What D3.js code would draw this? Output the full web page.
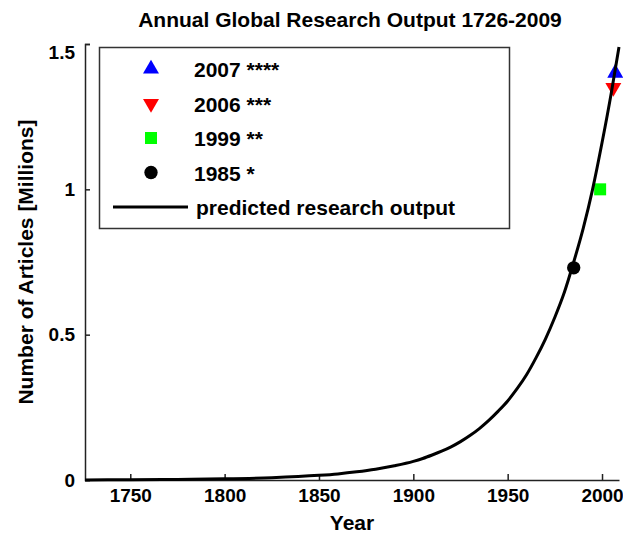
<!DOCTYPE html>
<html>
<head>
<meta charset="utf-8">
<script src="https://cdn.jsdelivr.net/npm/d3@7"></script>
<style>
  body { margin: 0; background: #fff; }
  text { font-family: "Liberation Sans", Arial, sans-serif; font-weight: bold; fill: #000; }
</style>
</head>
<body>
<svg></svg>
<script>
// values
const curveYears = [1726, 1750, 1775, 1800, 1825, 1850, 1860, 1870, 1880, 1890, 1900, 1905, 1910, 1915, 1920, 1925, 1930, 1935, 1940, 1945, 1950, 1955, 1960, 1965, 1970, 1975, 1980, 1985, 1990, 1995, 2000, 2005, 2009]
const curveValues = [0.000, 0.001, 0.002, 0.004, 0.008, 0.016, 0.021, 0.028, 0.037, 0.049, 0.064, 0.074, 0.086, 0.099, 0.114, 0.132, 0.153, 0.177, 0.205, 0.237, 0.272, 0.314, 0.362, 0.420, 0.485, 0.560, 0.645, 0.750, 0.865, 1.000, 1.160, 1.335, 1.490]

const pointYears = [2007, 2006, 1999, 1985]
const pointValues = [1.40, 1.35, 1.00, 0.73]
const pointStars = ["****", "***", "**", "*"]
const pointColors = ["#0000ff", "#ff0000", "#00ff00", "#000000"]
const pointShapes = ["up", "down", "square", "circle"]

const xTicks = [1750, 1800, 1850, 1900, 1950, 2000]
const yTicks = [0, 0.5, 1, 1.5]

const width = 623, height = 535

const svg = d3.select("svg")
  .attr("width", width)
  .attr("height", height)

const x = d3.scaleLinear()
  .domain([1726, 2009])
  .range([85, 619])

const y = d3.scaleLinear()
  .domain([0, 1.5])
  .range([480, 44])

// symbol helper
const symbolFor = (shape) => {
  if (shape === "square") return d3.symbol().type(d3.symbolSquare).size(144)()
  if (shape === "circle") return d3.symbol().type(d3.symbolCircle).size(140)()
  return d3.symbol().type(d3.symbolTriangle).size(110)()
}
const rotFor = (shape) => shape === "down" ? " rotate(180)" : ""

// title
svg.append("text")
  .attr("x", 350)
  .attr("y", 27)
  .attr("text-anchor", "middle")
  .style("font-size", "21px")
  .text("Annual Global Research Output 1726-2009")

// axes
const yAxis = svg.append("g")
  .attr("transform", "translate(85,0)")
  .call(d3.axisLeft(y)
    .tickValues(yTicks)
    .tickSizeInner(-5)
    .tickSizeOuter(-5)
    .tickPadding(10)
    .tickFormat(d3.format("~g")))

const xAxis = svg.append("g")
  .attr("transform", "translate(0,480)")
  .call(d3.axisBottom(x)
    .tickValues(xTicks)
    .tickSizeInner(-6)
    .tickSizeOuter(0)
    .tickPadding(9)
    .tickFormat(d3.format("d")))

svg.selectAll(".domain, .tick line")
  .attr("stroke", "#222")
  .attr("stroke-width", 1.5)

svg.selectAll(".tick text")
  .style("font-size", "19px")
  .style("font-family", "'Liberation Sans', Arial, sans-serif")
  .style("font-weight", "bold")
  .attr("fill", "#000")

yAxis.selectAll(".tick text")
  .filter(d => d === 1.5)
  .attr("dy", "0.75em")

// axis labels
svg.append("text")
  .attr("x", 352)
  .attr("y", 530)
  .attr("text-anchor", "middle")
  .style("font-size", "21px")
  .text("Year")

svg.append("text")
  .attr("transform", "translate(33,262) rotate(-90)")
  .attr("text-anchor", "middle")
  .style("font-size", "21px")
  .text("Number of Articles [Millions]")

// legend
const legend = svg.append("g")

legend.append("rect")
  .attr("x", 99.5)
  .attr("y", 47.5)
  .attr("width", 410)
  .attr("height", 181)
  .attr("fill", "#fff")
  .attr("stroke", "#333")
  .attr("stroke-width", 1.5)

const rowY = (i) => 69 + i * 34.5

const legendRows = legend.selectAll("g.row")
  .data(pointYears)
  .enter()
  .append("g")
  .attr("class", "row")
  .attr("transform", (d, i) => `translate(0, ${rowY(i)})`)

legendRows.append("path")
  .attr("d", (d, i) => symbolFor(pointShapes[i]))
  .attr("transform", (d, i) => `translate(151,0)${rotFor(pointShapes[i])}`)
  .attr("fill", (d, i) => pointColors[i])

legendRows.append("text")
  .attr("x", 194)
  .attr("y", 8)
  .style("font-size", "21px")
  .text((d, i) => `${d} ${pointStars[i]}`)

legend.append("line")
  .attr("x1", 113)
  .attr("x2", 188)
  .attr("y1", rowY(4))
  .attr("y2", rowY(4))
  .attr("stroke", "#000")
  .attr("stroke-width", 3)

legend.append("text")
  .attr("x", 196)
  .attr("y", rowY(4) + 8)
  .style("font-size", "21px")
  .text("predicted research output")

// data points
svg.selectAll("path.point")
  .data(pointYears)
  .enter()
  .append("path")
  .attr("class", "point")
  .attr("d", (d, i) => symbolFor(pointShapes[i]))
  .attr("transform", (d, i) => `translate(${x(d)},${y(pointValues[i])})${rotFor(pointShapes[i])}`)
  .attr("fill", (d, i) => pointColors[i])

// predicted curve
const line = d3.line()
  .x((d, i) => x(curveYears[i]))
  .y(d => y(d))
  .curve(d3.curveMonotoneX)

svg.append("path")
  .datum(curveValues)
  .attr("d", line)
  .attr("fill", "none")
  .attr("stroke", "#000")
  .attr("stroke-width", 3)
</script>
</body>
</html>
